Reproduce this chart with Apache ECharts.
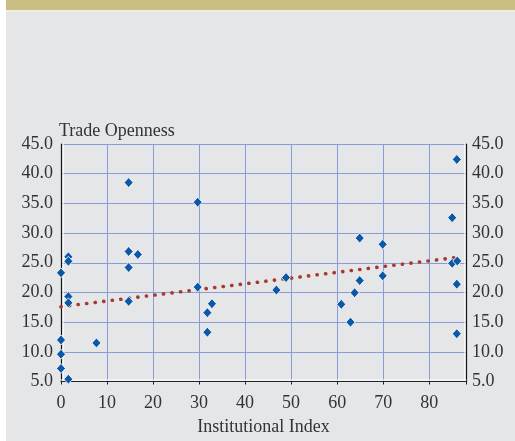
<!DOCTYPE html>
<html>
<head>
<meta charset="utf-8">
<script src="https://cdn.jsdelivr.net/npm/echarts@6/dist/echarts.min.js"></script>
<style>
html,body{margin:0;padding:0;background:#ffffff;}
#chart{width:515px;height:441px;}
</style>
</head>
<body>
<div id="chart"></div>
<script>
const instIndex = [0,1.6,1.6,14.7,14.7,16.7,14.7,29.7,0,0,0,1.6,1.6,1.6,7.7,14.7,29.7,31.8,31.8,32.8,46.8,48.9,64.9,60.9,63.8,62.9,69.9,86.0,86.0,86.0,85.0,64.9,69.9,85.0,86.1];
const tradeOpenness = [23.3,26.0,25.25,38.5,26.9,26.4,24.2,35.2,12.0,9.6,7.2,5.4,19.3,18.25,11.5,18.5,20.9,16.6,13.3,18.1,20.4,22.5,22.0,18.0,19.95,15.0,22.8,21.4,13.05,42.4,32.6,29.15,28.1,24.9,25.3];
const trendX = [0, 86];
const trendY = [17.6, 25.9];
const yTicks = [5,10,15,20,25,30,35,40,45];
const xTicks = [0,10,20,30,40,50,60,70,80];
const yTitle = 'Trade Openness';
const xTitle = 'Institutional Index';

const FONT = '"Liberation Serif", "Times New Roman", serif';
const chart = echarts.init(document.getElementById('chart'), null, {renderer:'canvas'});
const pts = instIndex.map((x,i)=>[x, tradeOpenness[i]]);
const trend = trendX.map((x,i)=>[x, trendY[i]]);
const yLabel = { fontFamily: FONT, fontSize: 18, color: '#333' };
const GRIDC = '#8b9bd8';
chart.setOption({
  animation: false,
  backgroundColor: '#ffffff',
  graphic: [
    {type:'rect', shape:{x:6,y:0,width:509,height:10}, style:{fill:'#cbbe82'}, z:-10},
    {type:'rect', shape:{x:6,y:10,width:509,height:2}, style:{fill:'#efece2'}, z:-10},
    {type:'rect', shape:{x:6,y:12,width:509,height:429}, style:{fill:'#e5e6e8'}, z:-10},
    {type:'text', left:59, top:122, style:{text:yTitle, font:'18px ' + FONT, fill:'#333'}}
  ],
  grid: {left:61, right:49, top:144, bottom:59.5, containLabel:false, outerBoundsMode:'none'},
  xAxis: {
    type:'value', min:0, max:88, interval:10,
    name: xTitle, nameLocation:'middle', nameGap:37,
    nameTextStyle:{fontFamily:FONT, fontSize:18, color:'#333'},
    axisLine:{show:true, onZero:false, lineStyle:{color:'#222', width:1, shadowColor:'#ffffff', shadowOffsetY:-1.5, shadowBlur:0}},
    axisTick:{show:true, length:3, lineStyle:{color:'#222'}},
    axisLabel:{fontFamily:FONT, fontSize:18, color:'#333', margin:13,
      formatter: v => xTicks.includes(v) ? String(v) : ''},
    splitLine:{show:true, lineStyle:{color:GRIDC, width:1}}
  },
  yAxis: [
    {
      type:'value', min:5, max:45, interval:5, position:'left',
      axisLine:{show:true, onZero:false, lineStyle:{color:'#111', width:1.2, shadowColor:'#ffffff', shadowOffsetX:1.5, shadowBlur:0}},
      axisTick:{show:false},
      axisLabel:Object.assign({margin:8, formatter: v => yTicks.includes(v) ? v.toFixed(1) : ''}, yLabel),
      splitLine:{show:true, lineStyle:{color:GRIDC, width:1}}
    },
    {
      type:'value', min:5, max:45, interval:5, position:'right',
      axisLine:{show:true, onZero:false, lineStyle:{color:'#111', width:1.2, shadowColor:'#ffffff', shadowOffsetX:-1.5, shadowBlur:0}},
      axisTick:{show:false},
      axisLabel:Object.assign({margin:6, formatter: v => yTicks.includes(v) ? v.toFixed(1) : ''}, yLabel),
      splitLine:{show:false}
    }
  ],
  series: [
    {
      type:'line', data:trend, yAxisIndex:0, symbol:'none', z:2,
      lineStyle:{color:'#a8392f', width:3.6, type:[0.2, 8.4], cap:'round'}
    },
    {
      type:'scatter', data:pts, yAxisIndex:0, symbol:'diamond', symbolSize:[9,10], z:3,
      itemStyle:{color:'#0a58a6', borderColor:'#ffffff', borderWidth:0.8, opacity:1}
    }
  ]
});
</script>
</body>
</html>
